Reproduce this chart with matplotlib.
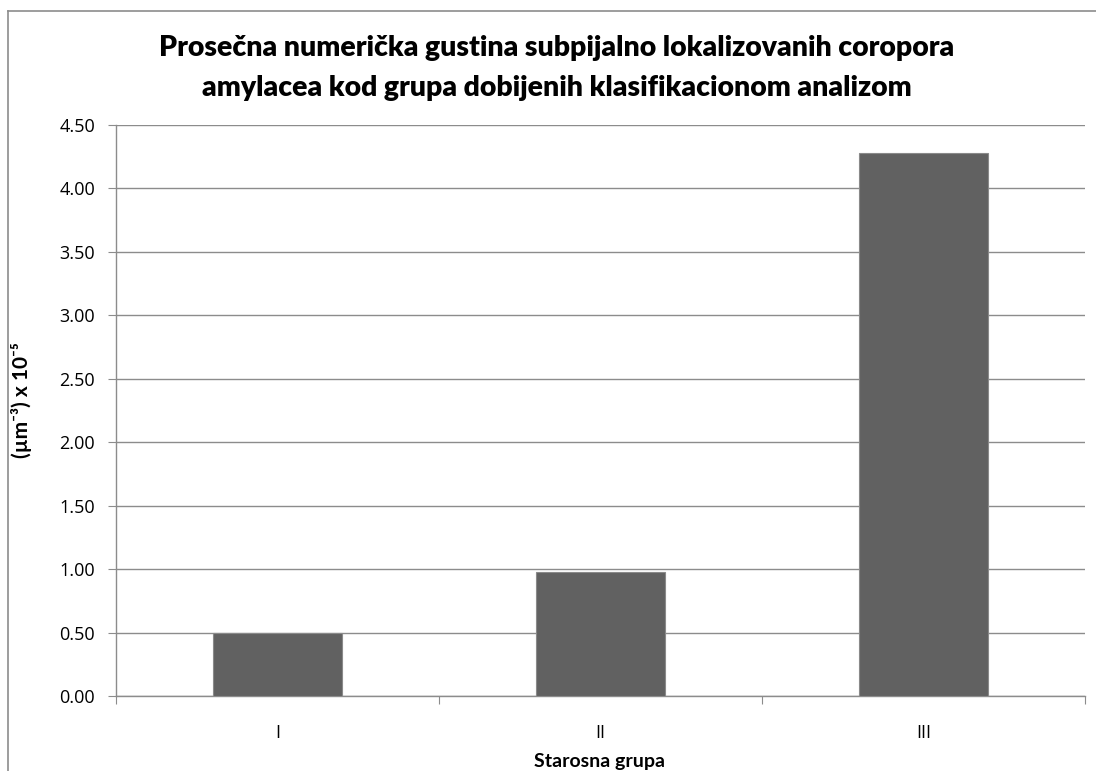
import matplotlib
matplotlib.use("Agg")
import matplotlib.pyplot as plt
from matplotlib.lines import Line2D

categories = ["I", "II", "III"]
values = [0.50, 0.98, 4.28]
yticks = [0.0, 0.5, 1.0, 1.5, 2.0, 2.5, 3.0, 3.5, 4.0, 4.5]

title_lines = ["Prosečna numerička gustina subpijalno lokalizovanih coropora",
               "amylacea kod grupa dobijenih klasifikacionom analizom"]
xlabel = "Starosna grupa"
ylabel = "(µm⁻³) x 10⁻⁵"

W, H = 1096, 771
fig = plt.figure(figsize=(W / 100, H / 100), dpi=100)
ax = fig.add_axes([116 / W, 1 - 696 / H, (1085 - 116) / W, (696 - 125) / H])

fam = ["Lato", "DejaVu Sans"]
tick_fam = ["Open Sans", "DejaVu Sans"]
grid_c = "#8c8c8c"

x = list(range(len(categories)))
ax.bar(x, values, width=0.4, color="#616161", edgecolor="#8a8a8a", linewidth=0.8, zorder=3)
ax.set_xlim(-0.5, len(categories) - 0.5)
ax.set_ylim(0, 4.5)
ax.set_yticks(yticks)
ax.set_yticklabels([f"{v:.2f}" for v in yticks], family=tick_fam, fontsize=13)
ax.yaxis.grid(True, color=grid_c, linewidth=1.0, zorder=0)
ax.set_axisbelow(True)

ax.set_xticks([-0.5, 0.5, 1.5, 2.5])
ax.set_xticklabels([])
ax.set_xticks(x, minor=True)
ax.set_xticklabels(categories, minor=True, family=tick_fam, fontsize=13)
ax.tick_params(axis="x", which="major", length=6, color=grid_c, direction="out")
ax.tick_params(axis="x", which="minor", length=0, pad=20)
ax.tick_params(axis="y", length=6, color=grid_c, direction="out", pad=9)

for s in ["top", "right"]:
    ax.spines[s].set_visible(False)
for s in ["left", "bottom"]:
    ax.spines[s].set_color(grid_c)
    ax.spines[s].set_linewidth(1.0)

fig.text(557 / W, 1 - 48 / H, title_lines[0], ha="center", va="center", fontsize=20.4,
         fontweight="heavy", family=fam)
fig.text(557 / W, 1 - 88 / H, title_lines[1], ha="center", va="center", fontsize=20.4,
         fontweight="heavy", family=fam)
fig.text(600 / W, 1 - 762 / H, xlabel, ha="center", va="center", fontsize=14,
         fontweight="bold", family=fam)
fig.text(22 / W, 1 - 400 / H, ylabel, ha="center", va="center", fontsize=15,
         fontweight="bold", family=fam, rotation=90)

# chart area border (left and top visible)
fig.add_artist(Line2D([7.5 / W, 7.5 / W], [0, 1 - 11 / H], transform=fig.transFigure,
                      color="#8c8c8c", linewidth=1.2))
fig.add_artist(Line2D([7.5 / W, 1], [1 - 11 / H, 1 - 11 / H], transform=fig.transFigure,
                      color="#8c8c8c", linewidth=1.2))

fig.savefig("out.png", dpi=100)
